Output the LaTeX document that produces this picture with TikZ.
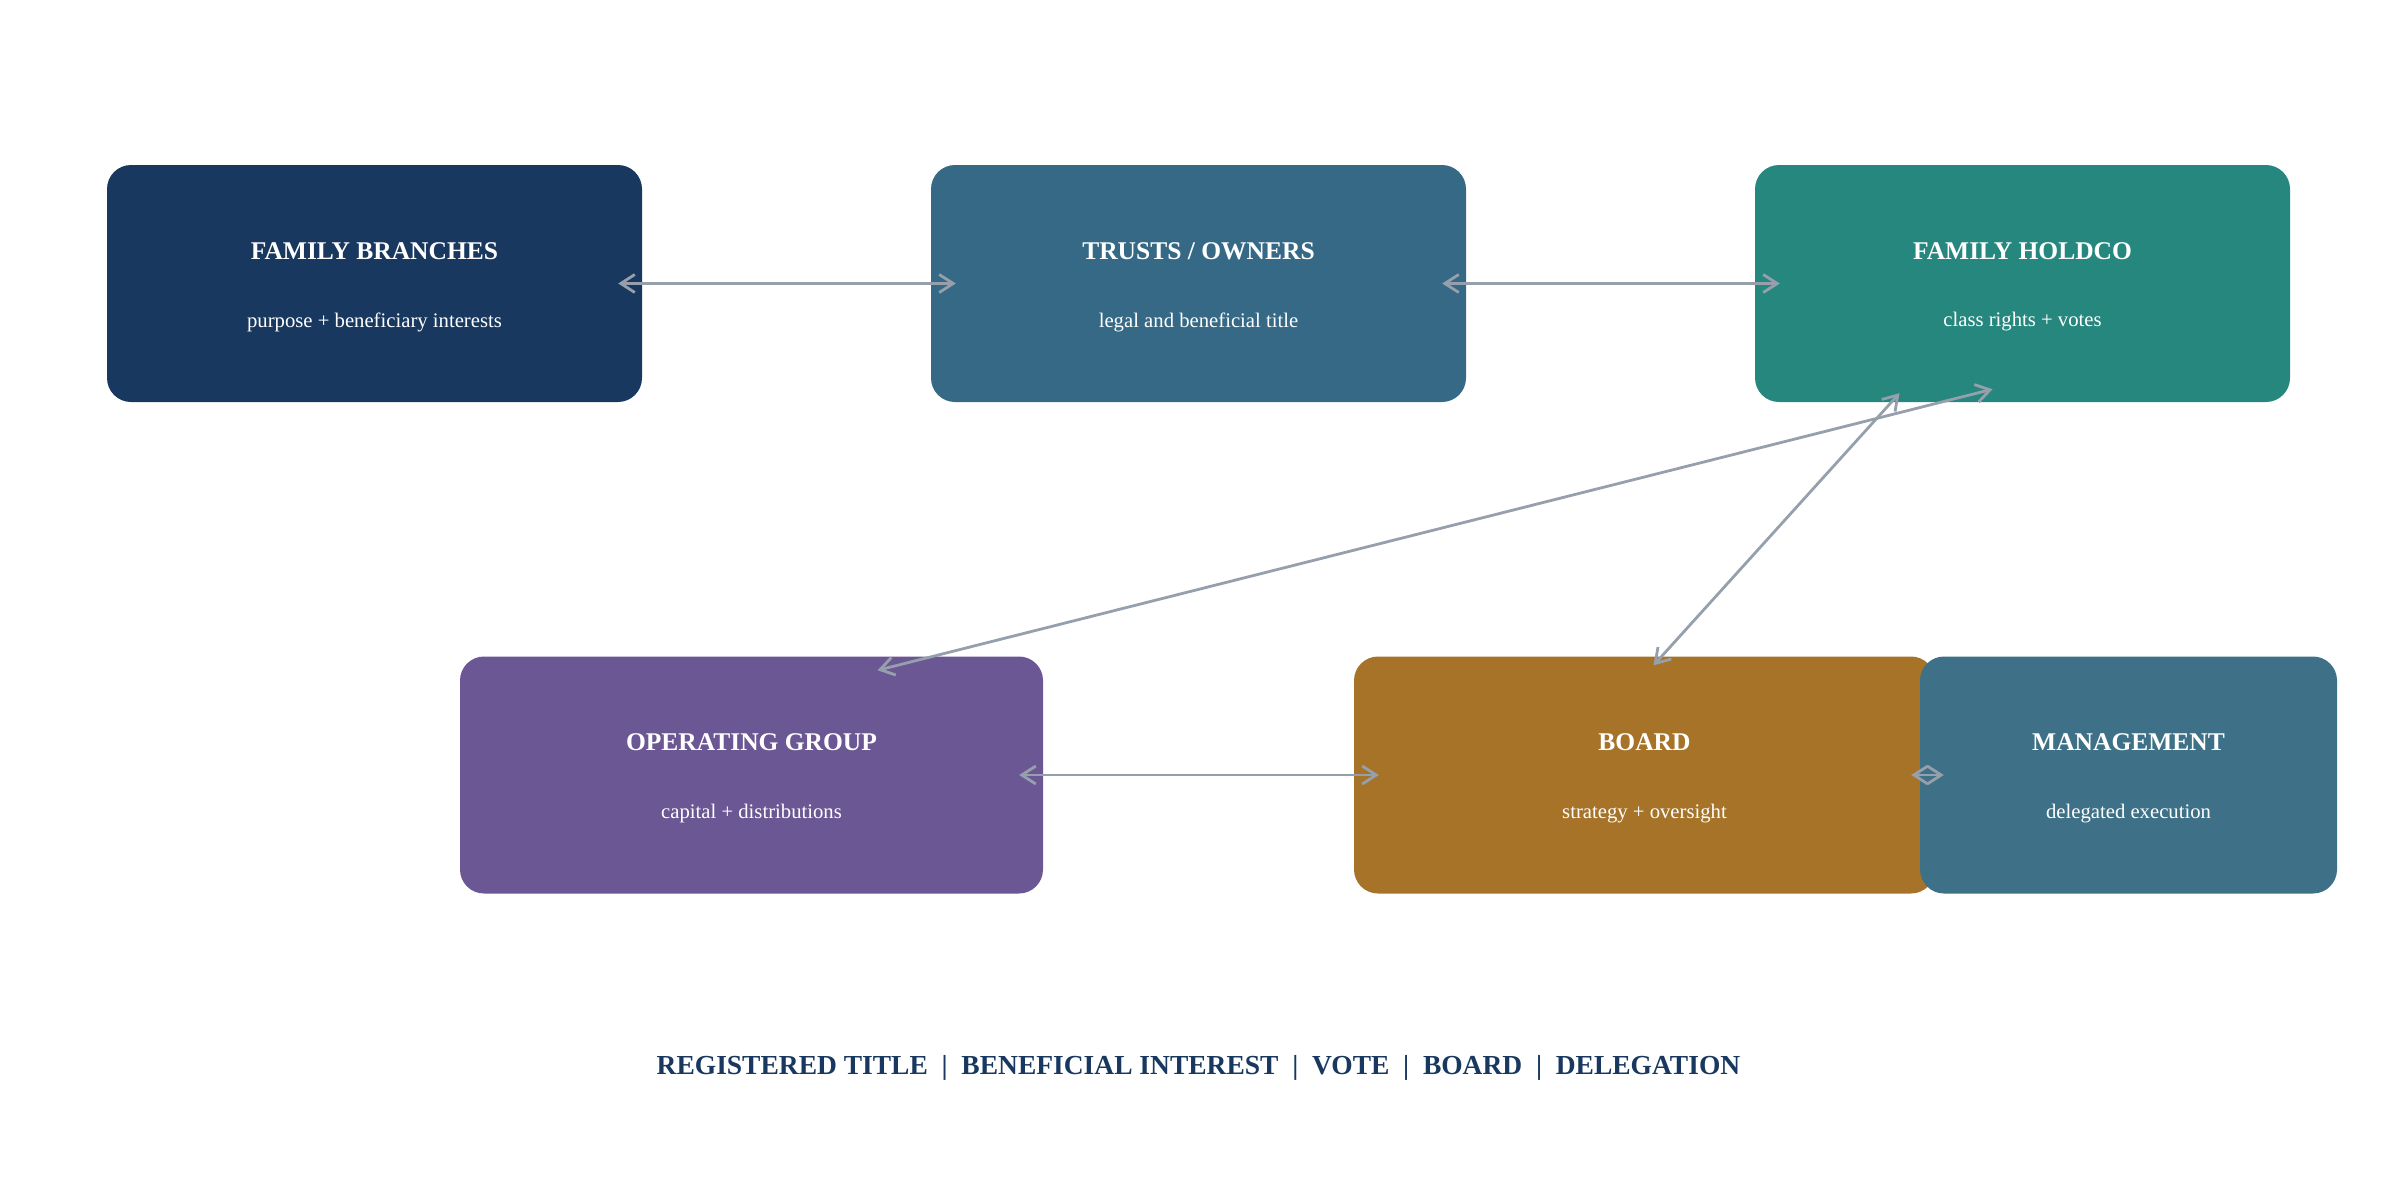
\documentclass[tikz,border=0pt]{standalone}
\usepackage{fontspec}
\setmainfont{Liberation Serif}
\usetikzlibrary{arrows.meta,calc}
\definecolor{cNavy}{HTML}{183860}
\definecolor{cTrust}{HTML}{356985}
\definecolor{cHold}{HTML}{26877E}
\definecolor{cOp}{HTML}{6B5793}
\definecolor{cBoard}{HTML}{A67329}
\definecolor{cMgmt}{HTML}{3E7187}
\definecolor{cArrow}{HTML}{96A0AC}
\begin{document}
\begin{tikzpicture}[x=1pt,y=-1pt,
  box/.style={rectangle, rounded corners=24pt, draw=none, inner sep=0pt, minimum width=#1, minimum height=237pt},
  ttl/.style={text=white, inner sep=0pt, font=\bfseries\fontsize{25.5}{30}\selectfont},
  sub/.style={text=white, inner sep=0pt, font=\fontsize{20.7}{25}\selectfont},
  conn/.style={draw=cArrow, line width=2.8pt, {Straight Barb[length=14pt,width=18pt]}-{Straight Barb[length=14pt,width=18pt]}}
]
\useasboundingbox (0,0) rectangle (2397,1187);
% top row
\node[box=535pt, fill=cNavy] (fb) at (374.5,283.5) {};
\node[box=535pt, fill=cTrust] (tr) at (1198.5,283.5) {};
\node[box=535pt, fill=cHold] (hc) at (2022.5,283.5) {};
% bottom row
\node[box=583pt, fill=cOp] (og) at (751.5,775) {};
\node[box=581pt, fill=cBoard] (bd) at (1644.5,775) {};
\node[box=417pt, fill=cMgmt] (mg) at (2128.5,775) {};
% texts
\foreach \n/\t/\s in {fb/{FAMILY BRANCHES}/{purpose + beneficiary interests},
  tr/{TRUSTS / OWNERS}/{legal and beneficial title},
  hc/{FAMILY HOLDCO}/{class rights + votes},
  og/{OPERATING GROUP}/{capital + distributions},
  bd/{BOARD}/{strategy + oversight},
  mg/{MANAGEMENT}/{delegated execution}}{
  \node[ttl] (\n-t) at ([yshift=32.5pt]\n.center) {\t};
  \node[sub] (\n-s) at ([yshift=-38.5pt]\n.center) {\s};
}
% connectors
\draw[conn] ([xshift=-24pt]fb.east) -- ([xshift=25pt]tr.west);
\draw[conn] ([xshift=-24pt]tr.east) -- ([xshift=25pt]hc.west);
\draw[conn] ([xshift=-24pt]og.east) -- ([xshift=25pt]bd.west);
\draw[conn] ([xshift=-24pt]bd.east) -- ([xshift=24pt]mg.west);
\draw[conn] ([shift={(126,14)}]og.north) -- ([shift={(-30,-13)}]hc.south);
\draw[conn] ([shift={(9,9)}]bd.north) -- ([shift={(-123,-9)}]hc.south);
% footer
\node[text=cNavy, font=\bfseries\fontsize{27.5}{32}\selectfont, inner sep=0pt] (foot) at (1198.5,1068)
  {REGISTERED TITLE~~|~~BENEFICIAL INTEREST~~|~~VOTE~~|~~BOARD~~|~~DELEGATION};
\end{tikzpicture}
\end{document}
